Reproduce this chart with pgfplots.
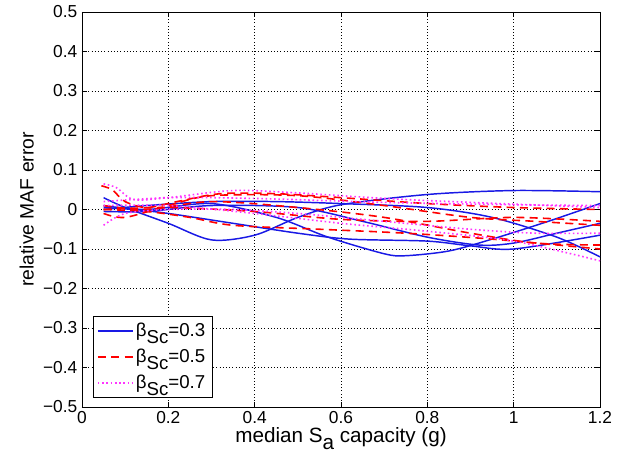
\documentclass[border=0pt]{standalone}
\usepackage{fontspec}
\setmainfont{Liberation Sans}
\usepackage{pgfplots}
\pgfplotsset{compat=1.18}

\definecolor{mblue}{rgb}{0.1,0.1,0.9}
\definecolor{mred}{rgb}{1,0,0}
\definecolor{mmag}{rgb}{1,0.2,1}

\newcommand{\bsc}[1]{β\raisebox{-0.7ex}{Sc}=#1}

\begin{document}
\begin{tikzpicture}
\path[use as bounding box] (-61.5pt,-37.5pt) rectangle (402pt,305.25pt);
\begin{axis}[
    scale only axis,
    width=388.5pt,
    height=296.25pt,
    xmin=0, xmax=1.2,
    ymin=-0.5, ymax=0.5,
    xtick={0,0.2,0.4,0.6,0.8,1,1.2},
    xticklabels={0,0.2,0.4,0.6,0.8,1,1.2},
    ytick={-0.5,-0.4,-0.3,-0.2,-0.1,0,0.1,0.2,0.3,0.4,0.5},
    yticklabels={−0.5,−0.4,−0.3,−0.2,−0.1,0,0.1,0.2,0.3,0.4,0.5},
    tick align=inside,
    major tick length=4pt,
    tick style={black, thin},
    grid=major,
    major grid style={black, dotted, thin},
    axis line style={black, thin},
    tick label style={font=\fontsize{13}{15}\selectfont},
    xlabel={median S\raisebox{-0.6ex}{a} capacity (g)},
    ylabel={relative MAF error},
    xlabel style={font=\fontsize{15.5}{18}\selectfont, yshift=4pt},
    ylabel style={font=\fontsize{14.5}{16}\selectfont, yshift=0pt},
    legend style={at={(0.021,0.023)}, anchor=south west, draw=black,
        font=\fontsize{14}{16}\selectfont, row sep=4pt,
        inner xsep=3pt, inner ysep=3pt},
    legend cell align=left,
    legend image code/.code={\draw[#1, line width=1.1pt] (0pt,0pt) -- (26pt,0pt);},
]
% beta = 0.3 (blue, solid)
\addplot[mblue, line width=1.1pt, smooth] coordinates {
 (0.05,0.03) (0.1,0.005) (0.2,-0.035) (0.3,-0.077) (0.4,-0.065) (0.5,-0.02)
 (0.6,0.012) (0.8,0.038) (1.0,0.048) (1.2,0.045)};
\addlegendentry{\bsc{0.3}}
\addplot[mblue, line width=1.1pt, smooth, forget plot] coordinates {
 (0.05,0.0) (0.15,0.01) (0.3,0.02) (0.45,0.02) (0.6,0.015) (0.8,0.005)
 (0.95,-0.02) (1.1,-0.07) (1.2,-0.12)};
\addplot[mblue, line width=1.1pt, smooth, forget plot] coordinates {
 (0.05,0.01) (0.15,0.0) (0.3,0.015) (0.45,-0.02) (0.57,-0.07) (0.7,-0.112)
 (0.75,-0.117) (0.85,-0.105) (0.95,-0.075) (1.08,-0.03) (1.2,0.015)};
\addplot[mblue, line width=1.1pt, smooth, forget plot] coordinates {
 (0.05,-0.005) (0.15,-0.005) (0.3,0.01) (0.5,0.005) (0.65,-0.03) (0.8,-0.07)
 (0.92,-0.09) (1.0,-0.085) (1.1,-0.06) (1.2,-0.035)};
\addplot[mblue, line width=1.1pt, smooth, forget plot] coordinates {
 (0.05,0.005) (0.12,0.0) (0.2,-0.01) (0.35,-0.035) (0.5,-0.06) (0.62,-0.075)
 (0.8,-0.08) (0.9,-0.092) (1.0,-0.1) (1.2,-0.065)};
% beta = 0.5 (red, dashed)
\addplot[mred, line width=1.2pt, smooth, dash pattern=on 6pt off 4pt] coordinates {
 (0.045,0.06) (0.07,0.05) (0.1,0.02) (0.15,0.005) (0.22,0.02) (0.32,0.04)
 (0.45,0.04) (0.6,0.03) (0.8,0.015) (1.0,0.005) (1.2,0.0)};
\addlegendentry{\bsc{0.5}}
\addplot[mred, line width=1.2pt, smooth, dash pattern=on 6pt off 4pt, forget plot] coordinates {
 (0.05,-0.01) (0.1,-0.02) (0.2,0.01) (0.3,0.035) (0.5,0.035) (0.7,0.01)
 (0.9,-0.02) (1.05,-0.03) (1.2,-0.04)};
\addplot[mred, line width=1.2pt, smooth, dash pattern=on 6pt off 4pt, forget plot] coordinates {
 (0.05,0.0) (0.15,-0.005) (0.25,-0.02) (0.35,-0.04) (0.55,-0.05) (0.75,-0.06)
 (0.95,-0.075) (1.2,-0.1)};
\addplot[mred, line width=1.2pt, smooth, dash pattern=on 6pt off 4pt, forget plot] coordinates {
 (0.05,0.0) (0.2,0.005) (0.4,-0.005) (0.6,-0.025) (0.8,-0.03) (1.0,-0.02)
 (1.2,-0.03)};
\addplot[mred, line width=1.2pt, smooth, dash pattern=on 6pt off 4pt, forget plot] coordinates {
 (0.05,0.01) (0.15,0.0) (0.3,0.02) (0.5,0.005) (0.7,-0.02) (0.9,-0.06)
 (1.05,-0.085) (1.2,-0.09)};
% beta = 0.7 (magenta, dotted)
\addplot[mmag, line width=1.2pt, smooth, dash pattern=on 1.2pt off 2pt] coordinates {
 (0.05,0.065) (0.08,0.055) (0.12,0.025) (0.2,0.03) (0.35,0.048) (0.5,0.042)
 (0.7,0.028) (0.9,0.018) (1.2,0.005)};
\addlegendentry{\bsc{0.7}}
\addplot[mmag, line width=1.2pt, smooth, dash pattern=on 1.2pt off 2pt, forget plot] coordinates {
 (0.05,-0.04) (0.1,-0.01) (0.2,0.0) (0.35,0.0) (0.5,-0.01) (0.7,-0.03)
 (0.9,-0.05) (1.05,-0.06) (1.2,-0.06)};
\addplot[mmag, line width=1.2pt, smooth, dash pattern=on 1.2pt off 2pt, forget plot] coordinates {
 (0.05,0.01) (0.2,0.01) (0.4,-0.01) (0.6,-0.035) (0.8,-0.055) (1.0,-0.08)
 (1.2,-0.13)};
\addplot[mmag, line width=1.2pt, smooth, dash pattern=on 1.2pt off 2pt, forget plot] coordinates {
 (0.05,0.02) (0.2,0.03) (0.4,0.028) (0.7,0.018) (1.0,0.012) (1.2,0.01)};
\end{axis}
\end{tikzpicture}
\end{document}
